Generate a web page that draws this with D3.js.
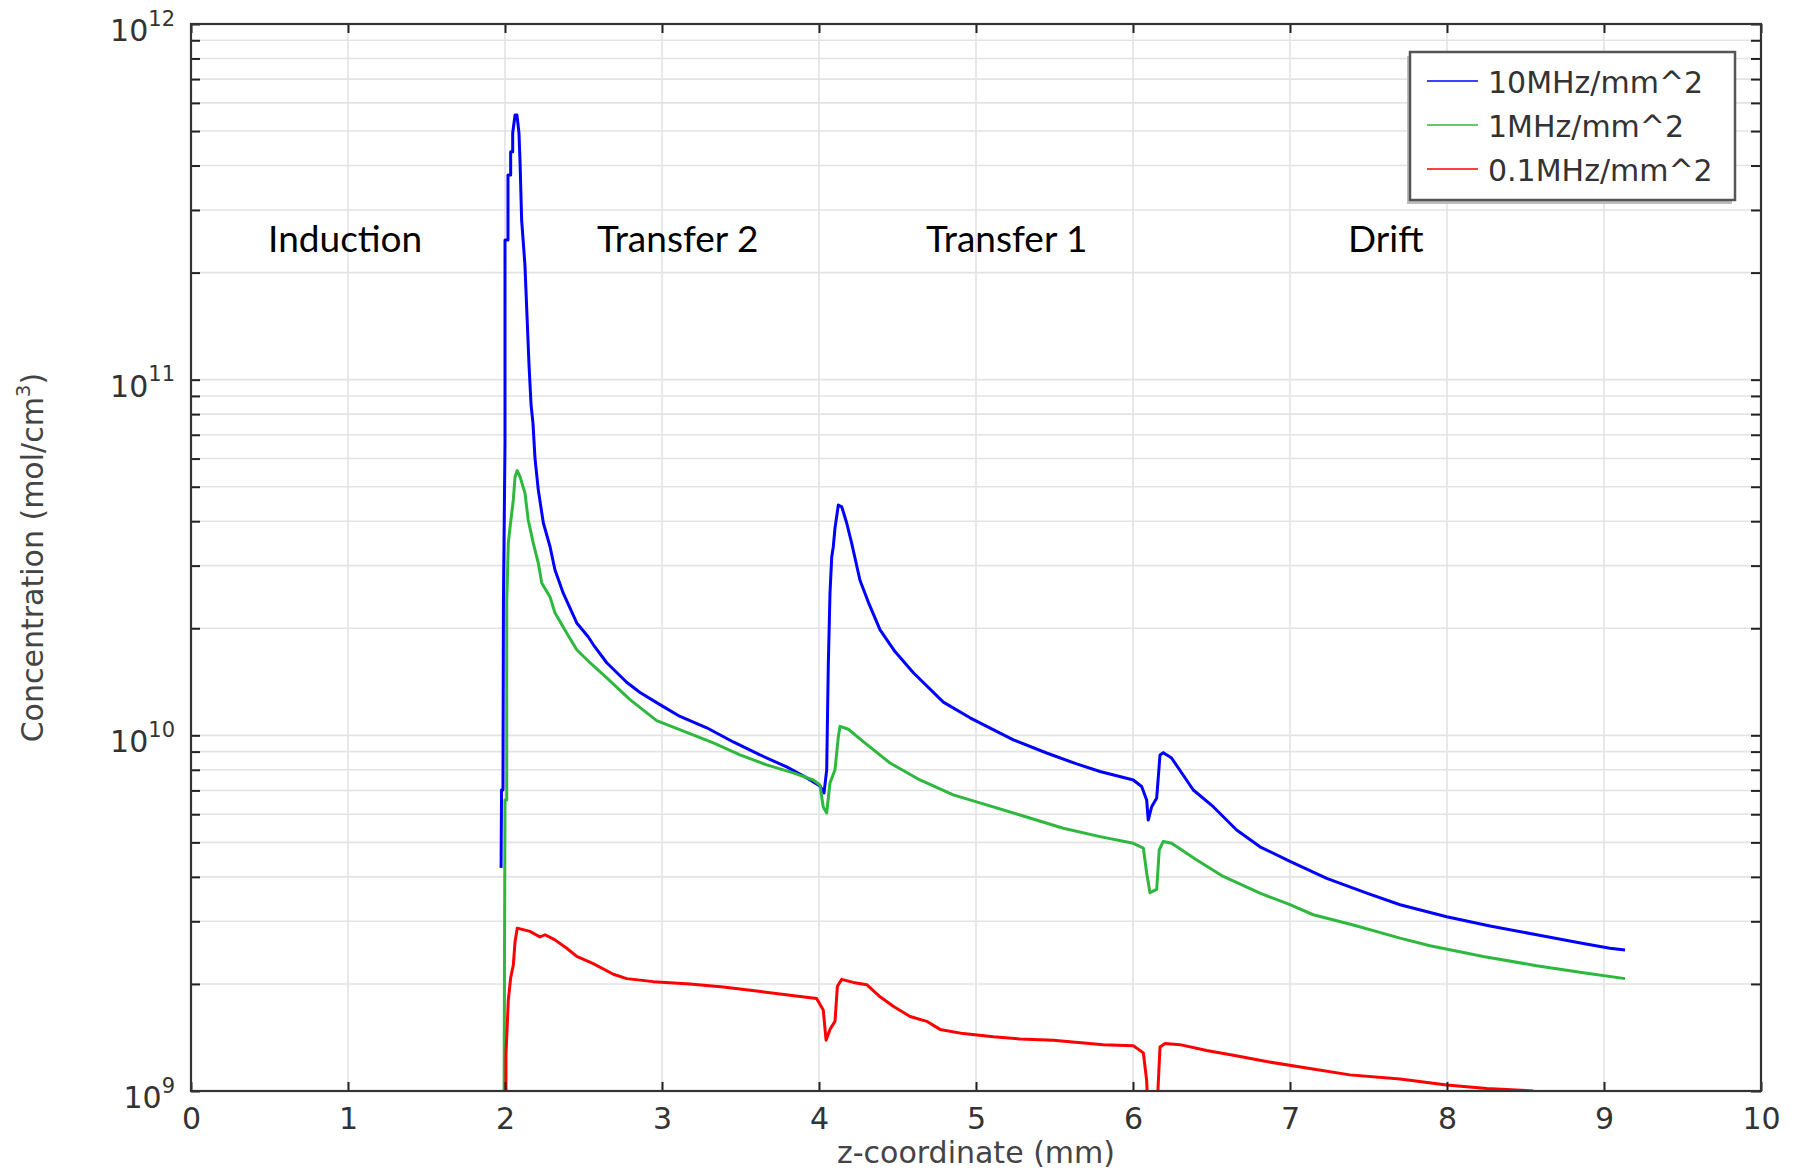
<!DOCTYPE html>
<html>
<head>
<meta charset="utf-8">
<script src="https://cdn.jsdelivr.net/npm/d3@7"></script>
<style>
  html, body { margin: 0; padding: 0; background: #fff; }
  svg { display: block; }
</style>
</head>
<body>
<svg id="chart" width="1798" height="1173"></svg>
<script>
// ---------------- DATA ----------------
const seriesNames = ["10MHz/mm^2", "1MHz/mm^2", "0.1MHz/mm^2"];
const seriesColors = ["#0000ff", "#2eb83e", "#ff0000"];

const xTicks = [0, 1, 2, 3, 4, 5, 6, 7, 8, 9, 10];
const yDecadeExponents = [9, 10, 11, 12];

const regionLabels = ["Induction", "Transfer 2", "Transfer 1", "Drift"];
const regionLabelX = [0.982, 3.10, 5.196, 7.61];
const regionLabelY = 2.29e11;

// [z (mm), concentration (mol/cm^3)]
const blue10MHz = [
  [1.975,4.24e9],[1.978,7.02e9],[1.987,7.02e9],[1.990,2.36e10],[2.000,6.64e10],
  [2.000,2.47e11],[2.019,2.47e11],[2.019,3.76e11],[2.036,3.76e11],[2.036,4.37e11],
  [2.049,4.37e11],[2.049,4.94e11],[2.064,5.55e11],[2.076,5.55e11],[2.089,4.94e11],
  [2.096,4.07e11],[2.106,2.81e11],[2.127,2.10e11],[2.140,1.52e11],[2.153,1.10e11],
  [2.166,8.49e10],[2.178,7.56e10],[2.191,6.02e10],[2.212,4.90e10],[2.244,3.96e10],
  [2.287,3.39e10],[2.318,2.92e10],[2.371,2.51e10],[2.457,2.07e10],[2.531,1.89e10],
  [2.562,1.80e10],[2.648,1.60e10],[2.775,1.41e10],[2.860,1.32e10],[2.987,1.22e10],
  [3.115,1.13e10],[3.285,1.05e10],[3.454,9.58e9],[3.624,8.81e9],[3.794,8.15e9],
  [3.922,7.59e9],[4.006,7.21e9],[4.032,6.89e9],[4.049,8.0e9],[4.059,1.56e10],
  [4.070,2.51e10],[4.081,3.17e10],[4.091,3.39e10],[4.102,3.83e10],[4.123,4.44e10],
  [4.145,4.39e10],[4.176,3.96e10],[4.208,3.47e10],[4.261,2.73e10],[4.314,2.37e10],
  [4.389,1.98e10],[4.484,1.72e10],[4.601,1.50e10],[4.792,1.24e10],[4.962,1.12e10],
  [5.238,9.71e9],[5.450,8.92e9],[5.641,8.31e9],[5.790,7.91e9],[6.002,7.49e9],
  [6.055,7.18e9],[6.087,6.58e9],[6.097,5.78e9],[6.119,6.30e9],[6.151,6.67e9],
  [6.172,8.81e9],[6.193,8.94e9],[6.246,8.63e9],[6.384,7.02e9],[6.511,6.30e9],
  [6.660,5.42e9],[6.809,4.86e9],[7.000,4.42e9],[7.234,3.96e9],[7.489,3.60e9],
  [7.701,3.34e9],[7.998,3.09e9],[8.274,2.91e9],[8.571,2.75e9],[8.868,2.60e9],
  [9.038,2.52e9],[9.134,2.49e9]
];

const green1MHz = [
  [1.994,9.0e8],[2.000,6.58e9],[2.011,6.58e9],[2.011,2.36e10],[2.021,3.47e10],
  [2.036,3.98e10],[2.053,4.59e10],[2.064,5.33e10],[2.078,5.55e10],[2.096,5.33e10],
  [2.127,4.80e10],[2.148,4.03e10],[2.180,3.47e10],[2.212,3.05e10],[2.234,2.68e10],
  [2.287,2.45e10],[2.318,2.21e10],[2.393,1.94e10],[2.457,1.74e10],[2.541,1.60e10],
  [2.648,1.45e10],[2.796,1.26e10],[2.966,1.10e10],[3.157,1.02e10],[3.327,9.52e9],
  [3.497,8.81e9],[3.667,8.26e9],[3.836,7.84e9],[3.964,7.49e9],[4.006,7.25e9],
  [4.027,6.29e9],[4.049,6.05e9],[4.070,7.35e9],[4.102,8.0e9],[4.123,9.90e9],
  [4.134,1.06e10],[4.187,1.04e10],[4.282,9.60e9],[4.452,8.36e9],[4.643,7.49e9],
  [4.855,6.80e9],[5.025,6.46e9],[5.280,5.97e9],[5.556,5.48e9],[5.790,5.19e9],
  [6.002,4.97e9],[6.066,4.82e9],[6.087,4.10e9],[6.108,3.61e9],[6.151,3.69e9],
  [6.167,4.76e9],[6.193,5.03e9],[6.246,4.97e9],[6.406,4.46e9],[6.575,4.01e9],
  [6.809,3.60e9],[7.000,3.34e9],[7.148,3.13e9],[7.403,2.93e9],[7.701,2.69e9],
  [7.892,2.56e9],[8.231,2.39e9],[8.571,2.25e9],[8.868,2.15e9],[9.134,2.07e9]
];

const red01MHz = [
  [2.006,9.0e8],[2.006,1.26e9],[2.021,1.80e9],[2.036,2.08e9],[2.053,2.26e9],
  [2.064,2.63e9],[2.078,2.87e9],[2.159,2.81e9],[2.223,2.71e9],[2.255,2.75e9],
  [2.318,2.66e9],[2.393,2.52e9],[2.457,2.39e9],[2.562,2.28e9],[2.690,2.13e9],
  [2.775,2.07e9],[2.945,2.03e9],[3.178,2.00e9],[3.390,1.96e9],[3.603,1.91e9],
  [3.815,1.86e9],[3.985,1.82e9],[4.027,1.69e9],[4.045,1.39e9],[4.070,1.49e9],
  [4.102,1.57e9],[4.117,1.97e9],[4.145,2.06e9],[4.218,2.02e9],[4.304,1.99e9],
  [4.389,1.84e9],[4.473,1.73e9],[4.580,1.62e9],[4.686,1.57e9],[4.771,1.49e9],
  [4.919,1.45e9],[5.110,1.42e9],[5.280,1.40e9],[5.492,1.39e9],[5.811,1.35e9],
  [6.002,1.34e9],[6.066,1.28e9],[6.087,1.07e9],[6.097,8.5e8],[6.151,8.5e8],
  [6.172,1.33e9],[6.204,1.36e9],[6.299,1.35e9],[6.469,1.30e9],[6.639,1.26e9],
  [6.851,1.21e9],[7.106,1.16e9],[7.382,1.11e9],[7.701,1.08e9],[7.998,1.04e9],
  [8.253,1.016e9],[8.550,1.0e9]
];

const allSeries = [blue10MHz, green1MHz, red01MHz];

// ---------------- LAYOUT ----------------
const svg = d3.select("#chart");
const L = 191, R = 1761, T = 24, B = 1091;
const tickFont = "'DejaVu Sans', sans-serif";
const textColor = "#333";

const x = d3.scaleLinear().domain([0, 10]).range([L, R]);
const y = d3.scaleLog().domain([1e9, 1e12]).range([B, T]);

// minor log ticks
const yMinor = [];
yDecadeExponents.slice(0, -1).forEach(e => {
  for (let m = 1; m <= 9; m++) yMinor.push(m * Math.pow(10, e));
});
yMinor.push(1e12);

// grid
const grid = svg.append("g").attr("stroke", "#e3e3e3").attr("stroke-width", 1.6);
grid.selectAll("line.gx").data(xTicks.filter(t => t > 0 && t < 10)).join("line")
  .attr("x1", d => x(d)).attr("x2", d => x(d)).attr("y1", T).attr("y2", B);
grid.selectAll("line.gy").data(yMinor.filter(v => v > 1e9 && v < 1e12)).join("line")
  .attr("x1", L).attr("x2", R).attr("y1", d => y(d)).attr("y2", d => y(d));

// clip
svg.append("defs").append("clipPath").attr("id", "plotclip")
  .append("rect").attr("x", L).attr("y", T).attr("width", R - L).attr("height", B - T);

// lines
const line = d3.line().x(d => x(d[0])).y(d => y(d[1]));
svg.append("g").attr("clip-path", "url(#plotclip)")
  .selectAll("path").data(allSeries).join("path")
  .attr("d", d => line(d))
  .attr("fill", "none")
  .attr("stroke", (d, i) => seriesColors[i])
  .attr("stroke-width", 3)
  .attr("stroke-linejoin", "round");

// axes (ticks inward)
function styleAxis(g) {
  g.select(".domain").remove();
  g.selectAll(".tick line").attr("stroke", "#222").attr("stroke-width", 2);
  g.selectAll(".tick text").attr("fill", textColor).style("font-family", tickFont).style("font-size", "30px");
}
svg.append("g").attr("transform", `translate(0,${B})`)
  .call(d3.axisBottom(x).tickValues(xTicks).tickSize(-9).tickPadding(17).tickFormat(d3.format("d")))
  .call(styleAxis);
svg.append("g").attr("transform", `translate(0,${T})`)
  .call(d3.axisTop(x).tickValues(xTicks).tickSize(-9).tickFormat(""))
  .call(styleAxis);
svg.append("g").attr("transform", `translate(${L},0)`)
  .call(d3.axisLeft(y).tickValues(yMinor).tickSize(-9).tickFormat(""))
  .call(styleAxis);
svg.append("g").attr("transform", `translate(${R},0)`)
  .call(d3.axisRight(y).tickValues(yMinor).tickSize(-10).tickFormat(""))
  .call(styleAxis);

// frame
svg.append("rect").attr("x", L).attr("y", T).attr("width", R - L).attr("height", B - T)
  .attr("fill", "none").attr("stroke", "#333").attr("stroke-width", 2.2);

// y tick labels with superscripts
const yl = svg.append("g").style("font-family", tickFont).attr("fill", textColor);
yDecadeExponents.forEach(e => {
  const t = yl.append("text").attr("x", L - 16).attr("y", y(Math.pow(10, e)) + 17)
    .attr("text-anchor", "end").style("font-size", "30px");
  t.append("tspan").text("10");
  t.append("tspan").attr("dy", -15.5).style("font-size", "21px").text(String(e));
});

// axis titles
svg.append("text").attr("x", (L + R) / 2).attr("y", 1163).attr("text-anchor", "middle")
  .style("font-family", tickFont).style("font-size", "30px").attr("fill", "#444")
  .text("z-coordinate (mm)");
const yt = svg.append("text").attr("transform", `translate(43,${(T + B) / 2}) rotate(-90)`)
  .attr("text-anchor", "middle").style("font-family", tickFont).style("font-size", "30px").attr("fill", "#444");
yt.append("tspan").text("Concentration (mol/cm");
yt.append("tspan").attr("dy", -13).style("font-size", "20px").text("3");
yt.append("tspan").attr("dy", 13).text(")");

// region labels
svg.append("g").selectAll("text").data(regionLabels).join("text")
  .attr("x", (d, i) => x(regionLabelX[i])).attr("y", y(regionLabelY))
  .attr("text-anchor", "middle")
  .style("font-family", "Lato, 'Open Sans', sans-serif").style("font-size", "37px")
  .attr("fill", "#000").text(d => d);

// legend
const lg = svg.append("g");
const lx = 1410, ly = 52, lw = 325, lh = 148;
lg.append("rect").attr("x", lx - 3).attr("y", ly + 4).attr("width", lw).attr("height", lh)
  .attr("fill", "#bdbdbd");
lg.append("rect").attr("x", lx).attr("y", ly).attr("width", lw).attr("height", lh)
  .attr("fill", "#fff").attr("stroke", "#555").attr("stroke-width", 2.5);
seriesNames.forEach((name, i) => {
  const cy = 81 + i * 44;
  lg.append("line").attr("x1", 1427).attr("x2", 1478).attr("y1", cy).attr("y2", cy)
    .attr("stroke", seriesColors[i]).attr("stroke-width", 1.6);
  lg.append("text").attr("x", 1488).attr("y", cy + 11.5)
    .style("font-family", tickFont).style("font-size", "30px").attr("fill", textColor)
    .text(name);
});
</script>
</body>
</html>
